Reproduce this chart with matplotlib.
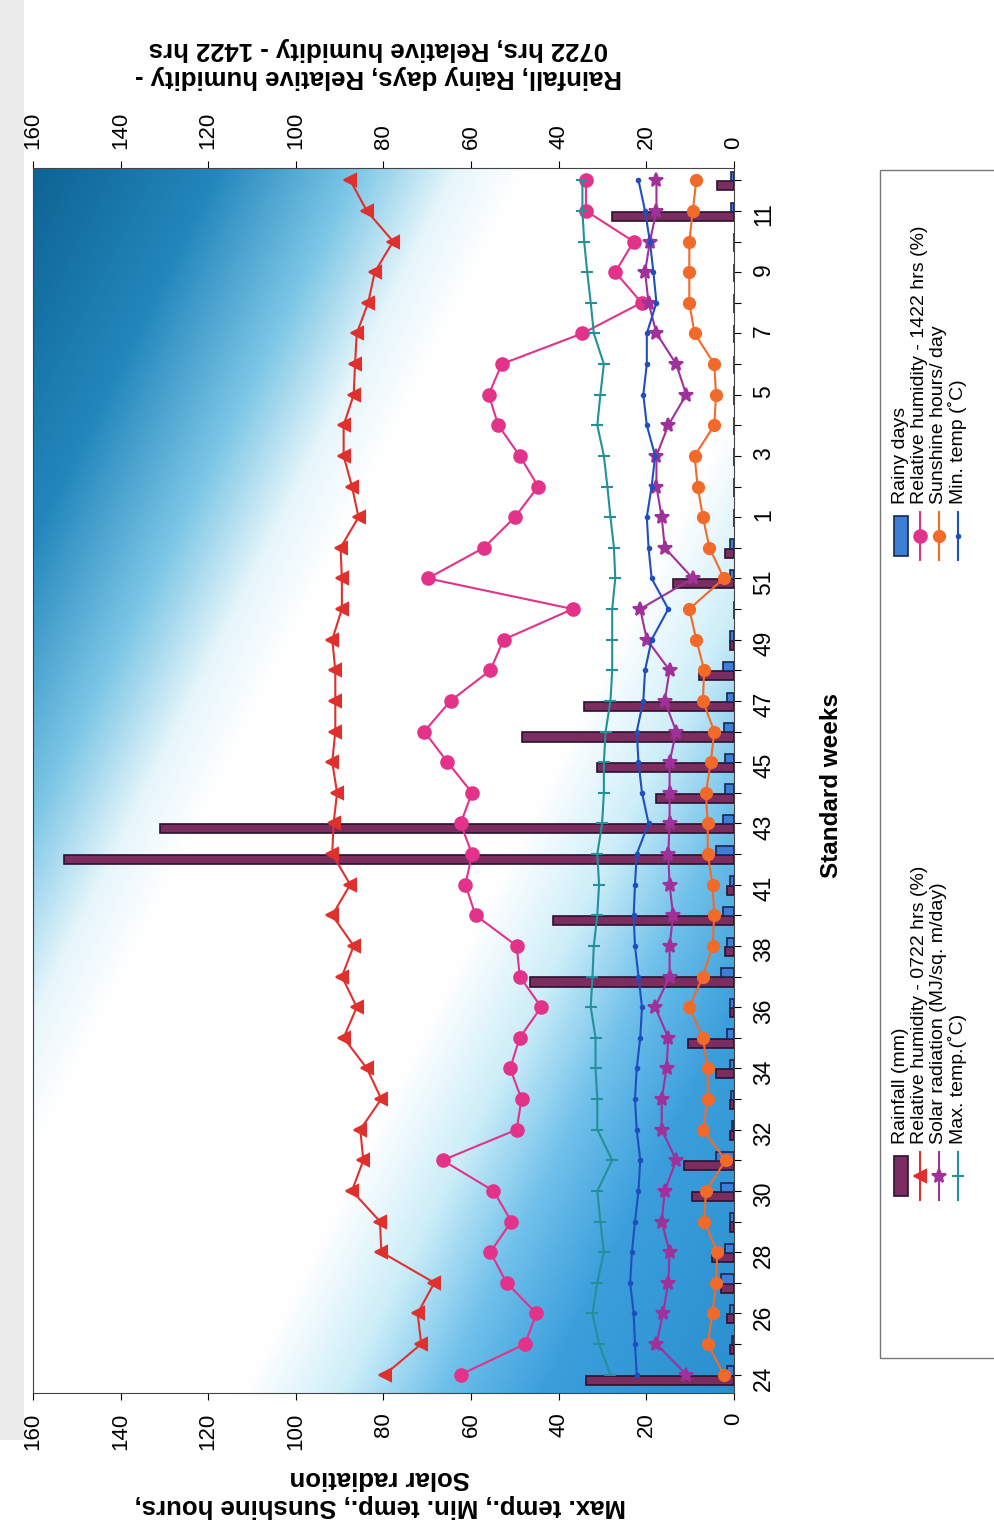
import numpy as np
import matplotlib
matplotlib.use('Agg')
import matplotlib.pyplot as plt
from matplotlib.colors import LinearSegmentedColormap
from matplotlib.patches import Rectangle
from matplotlib.lines import Line2D

plt.rcParams['font.family'] = ['Liberation Sans', 'DejaVu Sans']

# Standard weeks (the chart is printed rotated 90 deg on the page)
weeks = list(range(24, 40)) + list(range(41, 53)) + list(range(1, 13))

rainfall = [33.8, 1.0, 1.5, 3.0, 5.0, 1.0, 9.5, 11.3, 0.8, 1.0,
            4.0, 10.5, 1.0, 46.6, 2.0, 41.4, 1.5, 153.0, 131.0, 17.7,
            31.2, 48.5, 34.2, 8.0, 1.0, 0.0, 13.9, 2.0, 0.0, 0.0,
            0.0, 0.0, 0.0, 0.0, 0.0, 0.0, 0.0, 0.0, 27.8, 3.8]
rainy_days = [1.5, 0.5, 1.0, 3.0, 2.0, 1.0, 3.0, 4.0, 0.5, 0.7,
              1.0, 1.5, 1.0, 3.0, 1.5, 2.6, 1.0, 4.0, 2.6, 2.0,
              2.0, 2.3, 1.5, 2.6, 1.0, 0.0, 1.0, 1.0, 0.0, 0.0,
              0.0, 0.0, 0.0, 0.0, 0.0, 0.0, 0.0, 0.0, 0.7, 0.7]
rh_0722 = [79.7, 71.4, 72.2, 68.4, 80.5, 80.8, 87.2, 84.6, 85.3, 80.5,
           83.8, 89.1, 86.1, 89.5, 86.8, 91.7, 87.6, 91.7, 91.4, 90.6,
           91.7, 91.0, 91.0, 91.0, 91.7, 89.5, 89.5, 89.8, 85.7, 87.2,
           89.1, 89.1, 86.8, 86.5, 86.1, 83.5, 82.0, 77.8, 83.8, 87.6]
rh_1422 = [62.4, 47.7, 45.1, 51.9, 55.6, 50.8, 54.9, 66.5, 49.6, 48.5,
           51.1, 48.9, 44.0, 48.9, 49.6, 59.0, 61.3, 59.8, 62.4, 59.8,
           65.4, 70.7, 64.7, 55.6, 52.6, 36.8, 69.9, 57.1, 50.0, 44.7,
           48.9, 53.8, 56.0, 53.0, 34.6, 21.1, 27.1, 22.9, 33.8, 33.8]
solar = [10.9, 17.7, 16.2, 15.0, 14.7, 16.5, 15.8, 13.2, 16.5, 16.5,
         15.4, 15.0, 18.0, 14.7, 14.7, 13.9, 14.7, 15.0, 14.7, 14.7,
         14.7, 13.2, 15.8, 14.7, 19.9, 21.4, 9.4, 15.8, 16.5, 17.7,
         17.7, 15.0, 10.9, 13.2, 17.7, 19.5, 20.3, 19.2, 17.7, 17.7]
sunshine = [2.3, 6.0, 4.9, 4.1, 3.8, 6.8, 6.4, 1.9, 7.1, 6.0,
            6.0, 7.1, 10.2, 7.1, 4.9, 4.5, 4.9, 6.0, 6.0, 6.4,
            5.3, 4.5, 7.1, 6.8, 8.6, 10.2, 2.3, 5.6, 7.1, 8.3,
            9.0, 4.5, 4.1, 4.5, 9.0, 10.2, 10.2, 10.2, 9.4, 8.6]
max_temp = [28.2, 30.8, 32.3, 31.2, 29.7, 30.5, 31.2, 27.8, 31.2, 31.2,
            31.6, 31.6, 32.7, 32.3, 32.0, 31.2, 30.8, 31.2, 30.1, 29.7,
            29.7, 29.3, 28.2, 27.8, 27.8, 27.8, 27.1, 27.4, 28.2, 28.9,
            29.7, 31.2, 30.5, 29.7, 32.0, 32.7, 33.5, 34.2, 34.6, 34.6]
min_temp = [22.2, 22.6, 22.9, 23.7, 23.3, 22.6, 21.8, 21.4, 22.2, 22.6,
            22.2, 21.4, 21.0, 21.8, 22.6, 22.9, 22.6, 22.2, 19.5, 21.0,
            21.8, 22.2, 20.7, 20.3, 18.8, 15.0, 18.8, 19.5, 19.9, 18.8,
            18.0, 19.9, 20.7, 19.9, 19.9, 17.7, 18.4, 19.2, 20.3, 21.8]

W, H = 995, 1533


def fx(px):
    return px / W


def fy(py):
    return 1 - py / H


fig = plt.figure(figsize=(W / 100, H / 100), dpi=100)
fig.patch.set_facecolor('white')
# grey page edge of the scan
fig.add_artist(Rectangle((0, fy(1440)), fx(24), 1440 / H, transform=fig.transFigure,
                         fc='#ececec', ec='none', zorder=0))

# plot area in pixel coords
L, R, T, B = 33, 734, 168, 1393
ax = fig.add_axes([fx(L), fy(B), (R - L) / W, (B - T) / H])

# scanned blue gradient behind the plot
U, V = np.meshgrid(np.linspace(0, 1, 240), np.linspace(0, 1, 400))
s = (L + (R - L) * U) + 0.5 * (T + (B - T) * V)
stops = [(117, '#0e6494'), (300, '#2387bc'), (440, '#7cc6e6'), (540, '#e6f6fb'),
         (610, '#ffffff'), (940, '#ffffff'), (1040, '#cdeef9'), (1140, '#6fc0ea'),
         (1240, '#3c9fdc'), (1430, '#2a8fcf')]
cmap = LinearSegmentedColormap.from_list('bg', [((p - 117) / (1430 - 117), c) for p, c in stops])
ax.imshow((s - 117) / (1430 - 117), cmap=cmap, vmin=0, vmax=1, extent=[0, 1, 0, 1],
          transform=ax.transAxes, aspect='auto', origin='upper', zorder=0,
          interpolation='bilinear')

idx = np.arange(len(weeks))

# series styles: (values, label, color, marker, markersize)
lines = [
    (rh_0722, 'Relative humidity - 0722 hrs (%)', '#e0302e', '<', 9),
    (rh_1422, 'Relative humidity - 1422 hrs (%)', '#e2328a', 'o', 9),
    (solar, 'Solar radiation (MJ/sq. m/day)', '#a0309a', '*', 10),
    (sunshine, 'Sunshine hours/ day', '#f26a2a', 'o', 8),
    (max_temp, 'Max. temp.(\u02daC)', '#23909a', '_', 8),
    (min_temp, 'Min. temp (\u02daC)', '#1f4fbf', '.', 5),
]

ax.barh(idx - 0.18, rainfall, height=0.3, color='#7b2d5f', edgecolor='#2b1230', lw=1.2, zorder=2)
ax.barh(idx + 0.12, rainy_days, height=0.3, color='#3d7fd6', edgecolor='#1b2550', lw=1.2, zorder=2)
for vals, lab, col, mk, ms in lines:
    ax.plot(vals, idx, color=col, marker=mk, ms=ms, lw=1.5, mew=1.5, zorder=4)

ax.set_xlim(160, 0)
ax.set_ylim(-0.6, 39.4)

# value axis (original y axes) at top and bottom
ax.set_xticks(np.arange(0, 161, 20))
ax.tick_params(axis='x', top=True, labeltop=True, bottom=True, labelbottom=True,
               labelrotation=90, labelsize=16, pad=9, length=5)
# week axis (original x axis) on the right
ax.set_yticks(idx)
ax.set_yticklabels([str(w) if i % 2 == 0 else '' for i, w in enumerate(weeks)])
ax.yaxis.tick_right()
ax.tick_params(axis='y', labelrotation=90, labelsize=16.5, pad=8, length=5)
for sp in ax.spines.values():
    sp.set_color('#444444')

fig.text(fx(832), fy(785), 'Standard weeks', rotation=90, fontsize=17.5,
         fontweight='bold', ha='center', va='center')
fig.text(fx(380), fy(1492), 'Max. temp., Min. temp., Sunshine hours,\nSolar radiation',
         rotation=180, fontsize=18.5, fontweight='bold', ha='center', va='center',
         linespacing=1.25)
fig.text(fx(378), fy(63), 'Rainfall, Rainy days, Relative humidity -\n0722 hrs, Relative humidity - 1422 hrs',
         rotation=180, fontsize=18.5, fontweight='bold', ha='center', va='center',
         linespacing=1.25)

# legend, drawn by hand because it is rotated too
fig.add_artist(Rectangle((fx(880), fy(1358)), (1010 - 880) / W, (1358 - 170) / H,
                         transform=fig.transFigure, fill=False, ec='#777777', lw=1))
rows = [901, 920, 939, 958]
col1 = [('bar', 'Rainfall (mm)', '#7b2d5f', '#2b1230'), lines[0], lines[2], lines[4]]
col2 = [('bar', 'Rainy days', '#3d7fd6', '#1b2550'), lines[1], lines[3], lines[5]]
for col, y_hi, y_lo in [(col1, 1152, 1200), (col2, 512, 560)]:
    for x, item in zip(rows, col):
        if item[0] == 'bar':
            _, lab, fc, ec = item
            fig.add_artist(Rectangle((fx(x - 7), fy(y_lo - 4)), 14 / W, (y_lo - y_hi - 8) / H,
                                     transform=fig.transFigure, fc=fc, ec=ec, lw=1.2))
        else:
            _, lab, c, mk, ms = item
            fig.add_artist(Line2D([fx(x), fx(x)], [fy(y_hi), fy(y_lo)], color=c, lw=1.5,
                                  transform=fig.transFigure))
            fig.add_artist(Line2D([fx(x)], [fy((y_hi + y_lo) / 2)], color=c, marker=mk,
                                  ms=ms, mew=1.5, transform=fig.transFigure))
        fig.text(fx(x), fy(y_hi - 8), lab, rotation=90, rotation_mode='anchor',
                 ha='left', va='center', fontsize=14)

fig.savefig('out.png', dpi=100)
